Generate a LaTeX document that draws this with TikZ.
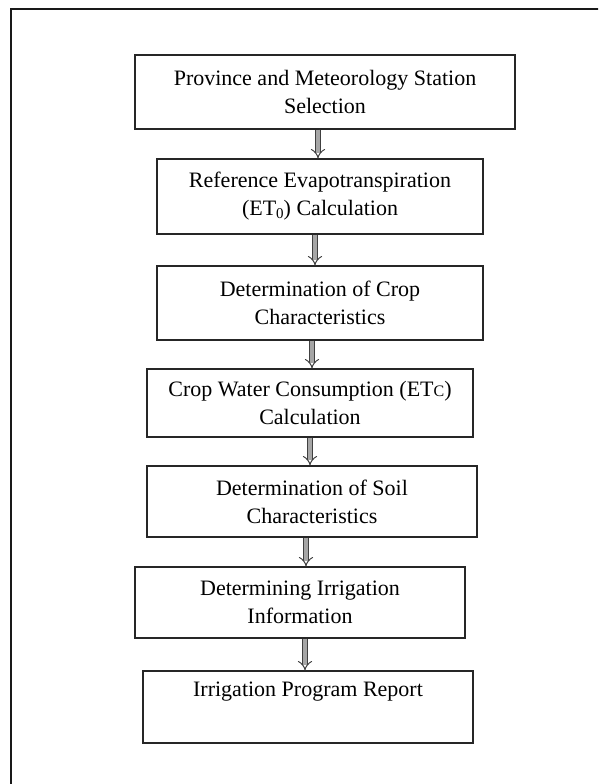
\documentclass[tikz,border=0pt]{standalone}
\usepackage{fontspec}
\setmainfont{Liberation Serif}
\usetikzlibrary{arrows.meta}
\newcommand{\subz}{\raisebox{-2.5pt}{\fontsize{15}{15}\selectfont 0}}
\newcommand{\subc}{{\fontsize{16}{16}\selectfont C}}
\begin{document}
\begin{tikzpicture}[x=1pt,y=-1pt,
  stepbox/.style={draw=black!85, line width=1.1pt, inner sep=0pt, align=center,
    font=\fontsize{22}{28}\selectfont},
  flow/.style={draw=black!75, line width=1pt, double=black!35, double distance=4pt,
    -{Implies}},
]
\useasboundingbox (0,0) rectangle (598,784);
\clip (0,0) rectangle (598,784);
\draw[line width=1.5pt, draw=black!90] (11,9) rectangle (660,840);

\node[stepbox, minimum width=380pt, minimum height=74pt] (b1) at (325,92)
  {Province and Meteorology Station\\Selection};
\node[stepbox, minimum width=326pt, minimum height=75pt] (b2) at (320,196.5)
  {Reference Evapotranspiration\\(ET\subz) Calculation};
\node[stepbox, minimum width=326pt, minimum height=74pt] (b3) at (320,303)
  {Determination of Crop\\Characteristics};
\node[stepbox, minimum width=326pt, minimum height=68pt] (b4) at (310,403)
  {Crop Water Consumption (ET\subc)\\Calculation};
\node[stepbox, minimum width=330pt, minimum height=71pt] (b5) at (312,501.5)
  {Determination of Soil\\Characteristics};
\node[stepbox, minimum width=330pt, minimum height=71pt] (b6) at (300,602.5)
  {Determining Irrigation\\Information};
\node[stepbox, minimum width=330pt, minimum height=72pt] (b7) at (308,707)
  {Irrigation Program Report\\\strut};

\coordinate (x1) at (318,0);
\coordinate (x2) at (315,0);
\coordinate (x3) at (312,0);
\coordinate (x4) at (310,0);
\coordinate (x5) at (306,0);
\coordinate (x6) at (305,0);

\draw[flow] (b1.south -| x1) -- (b2.north -| x1);
\draw[flow] (b2.south -| x2) -- (b3.north -| x2);
\draw[flow] (b3.south -| x3) -- (b4.north -| x3);
\draw[flow] (b4.south -| x4) -- (b5.north -| x4);
\draw[flow] (b5.south -| x5) -- (b6.north -| x5);
\draw[flow] (b6.south -| x6) -- (b7.north -| x6);
\end{tikzpicture}
\end{document}
